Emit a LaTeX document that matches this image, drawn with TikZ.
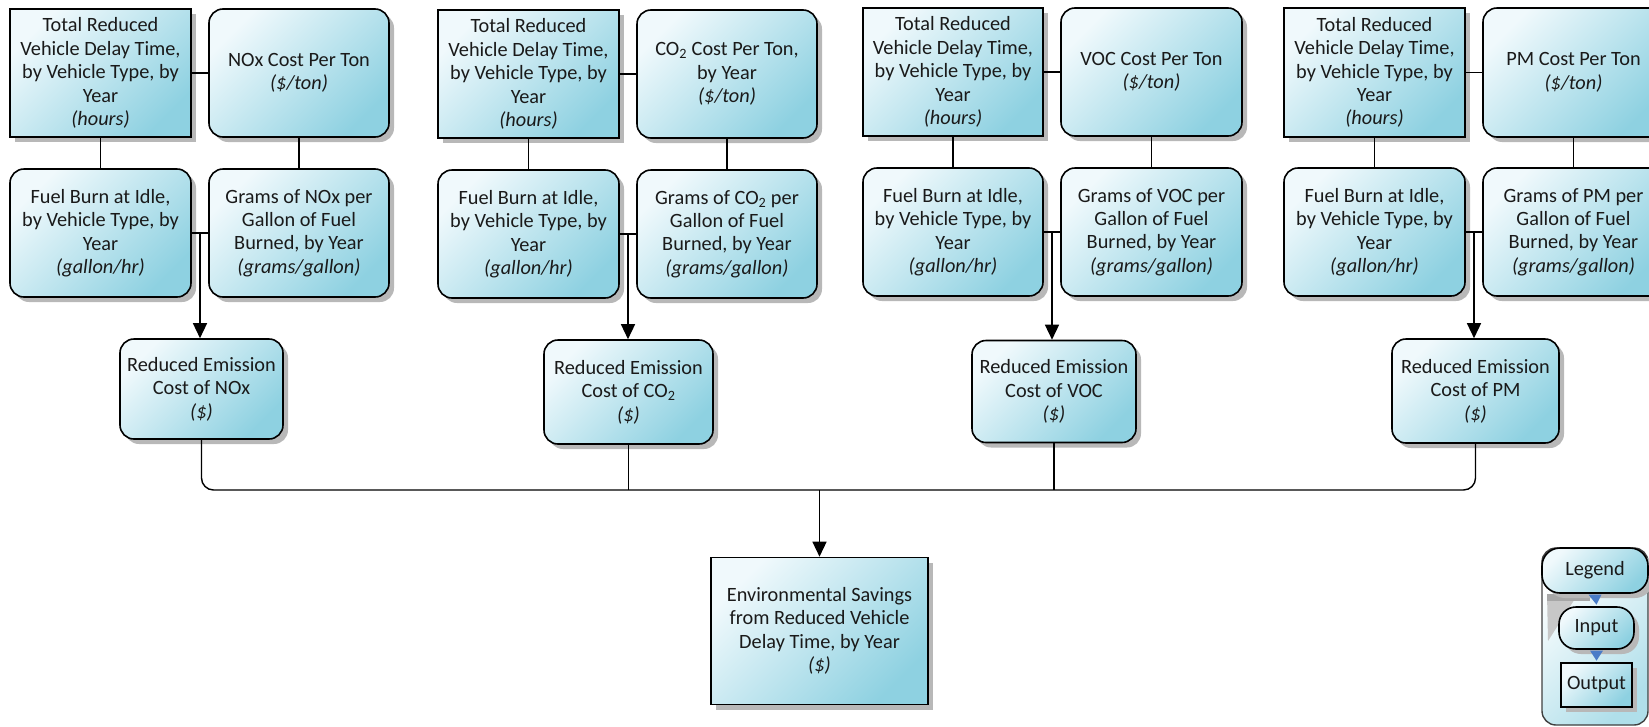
\documentclass[tikz,border=0pt]{standalone}
\usepackage{fontspec}
\setmainfont{Carlito}
\usetikzlibrary{shadows,arrows.meta,calc}

\definecolor{boxlight}{HTML}{F0F9FC}
\definecolor{boxmid}{HTML}{D8EFF5}
\definecolor{boxdark}{HTML}{8ED1E1}
\definecolor{shadowgray}{HTML}{B8B8B8}
\definecolor{legendblue}{HTML}{4A7CC8}
\definecolor{textdark}{HTML}{1A1A1A}

\tikzset{
  boxfill/.style={top color=boxlight, middle color=boxmid, bottom color=boxdark, shading angle=45},
  hasshadow/.style={drop shadow={shadow xshift=5pt, shadow yshift=-5pt, fill=shadowgray, opacity=1}},
  base/.style={draw=black, line width=1.6pt, boxfill, hasshadow, align=center,
               text=textdark, font=\fontsize{20.3}{23.4}\selectfont, inner sep=1pt},
  sqbox/.style={base, rectangle},
  rdbox/.style={base, rounded corners=14pt},
  wire/.style={line width=1.4pt, draw=black},
  arrow/.style={wire, -{Triangle[width=14pt,length=15pt]}},
  sz/.style 2 args={minimum width=#1pt, minimum height=#2pt},
}

\newcommand{\unitline}[1]{\textit{#1}}
\newcommand{\cotwo}{CO\textsubscript{2}}

\begin{document}
\begin{tikzpicture}[x=1pt, y=-1pt]
\useasboundingbox (0,0) rectangle (1649,726);
\clip (0,0) rectangle (1649,726);

% ---------- NOx column ----------
\node[sqbox, sz={181}{128}] (a1) at (100.5,73) {Total Reduced\\Vehicle Delay Time,\\by Vehicle Type, by\\Year\\\unitline{(hours)}};
\node[rdbox, sz={180}{128}] (b1) at (299,73) {NOx Cost Per Ton\\\unitline{(\$/ton)}};
\node[rdbox, sz={181}{128}] (c1) at (100.5,233) {Fuel Burn at Idle,\\by Vehicle Type, by\\Year\\\unitline{(gallon/hr)}};
\node[rdbox, sz={180}{128}] (d1) at (299,233) {Grams of NOx per\\Gallon of Fuel\\Burned, by Year\\\unitline{(grams/gallon)}};
\node[rdbox, sz={163}{100}] (e1) at (201.5,389) {Reduced Emission\\Cost of NOx\\\unitline{(\$)}};

% ---------- CO2 column ----------
\node[sqbox, sz={181}{128}] (a2) at (528.5,74) {Total Reduced\\Vehicle Delay Time,\\by Vehicle Type, by\\Year\\\unitline{(hours)}};
\node[rdbox, sz={180}{128}] (b2) at (727,74) {\cotwo{} Cost Per Ton,\\by Year\\\unitline{(\$/ton)}};
\node[rdbox, sz={181}{128}] (c2) at (528.5,234) {Fuel Burn at Idle,\\by Vehicle Type, by\\Year\\\unitline{(gallon/hr)}};
\node[rdbox, sz={180}{128}] (d2) at (727,234) {Grams of \cotwo{} per\\Gallon of Fuel\\Burned, by Year\\\unitline{(grams/gallon)}};
\node[rdbox, sz={169}{104}] (e2) at (628.5,392) {Reduced Emission\\Cost of \cotwo\\\unitline{(\$)}};

% ---------- VOC column ----------
\node[sqbox, sz={180}{128}] (a3) at (953,72) {Total Reduced\\Vehicle Delay Time,\\by Vehicle Type, by\\Year\\\unitline{(hours)}};
\node[rdbox, sz={181}{128}] (b3) at (1151.5,72) {VOC Cost Per Ton\\\unitline{(\$/ton)}};
\node[rdbox, sz={180}{128}] (c3) at (953,232) {Fuel Burn at Idle,\\by Vehicle Type, by\\Year\\\unitline{(gallon/hr)}};
\node[rdbox, sz={181}{128}] (d3) at (1151.5,232) {Grams of VOC per\\Gallon of Fuel\\Burned, by Year\\\unitline{(grams/gallon)}};
\node[rdbox, sz={164}{102}] (e3) at (1054,391.5) {Reduced Emission\\Cost of VOC\\\unitline{(\$)}};

% ---------- PM column ----------
\node[sqbox, sz={181}{129}] (a4) at (1374.5,72.5) {Total Reduced\\Vehicle Delay Time,\\by Vehicle Type, by\\Year\\\unitline{(hours)}};
\node[rdbox, sz={181}{129}] (b4) at (1573.5,72.5) {PM Cost Per Ton\\\unitline{(\$/ton)}};
\node[rdbox, sz={181}{128}] (c4) at (1374.5,232) {Fuel Burn at Idle,\\by Vehicle Type, by\\Year\\\unitline{(gallon/hr)}};
\node[rdbox, sz={181}{128}] (d4) at (1573.5,232) {Grams of PM per\\Gallon of Fuel\\Burned, by Year\\\unitline{(grams/gallon)}};
\node[rdbox, sz={167}{104}] (e4) at (1475.5,391) {Reduced Emission\\Cost of PM\\\unitline{(\$)}};

% ---------- result ----------
\node[sqbox, sz={217}{147}] (total) at (819.5,631) {Environmental Savings\\from Reduced Vehicle\\Delay Time, by Year\\\unitline{(\$)}};

% ---------- connectors inside each column ----------
\foreach \i in {1,2,3,4}{
  \draw[wire] (a\i.east) -- (b\i.west);
  \draw[wire] (a\i.south) -- (c\i.north);
  \draw[wire] (b\i.south) -- (d\i.north);
  \draw[wire] (c\i.east) -- (d\i.west);
  \coordinate (j\i) at ($(c\i.east)!0.5!(d\i.west)$);
  \draw[arrow] (j\i) -- (j\i |- e\i.north);
}

% ---------- collecting bus ----------
\coordinate (bus) at (0,490);
\draw[wire, rounded corners=12pt] (e1.south) -- (e1.south |- bus) -- (e4.south |- bus) -- (e4.south);
\draw[wire] (e2.south) -- (e2.south |- bus);
\draw[wire] (e3.south) -- (e3.south |- bus);
\draw[arrow] (total.north |- bus) -- (total.north);

% ---------- legend ----------
\draw[draw=black!75, line width=1.4pt, rounded corners=14pt,
      top color=white, middle color=white, bottom color=boxdark!70, shading angle=45]
  (1542,548) rectangle (1648,725);
\fill[black!22] (1547,594) -- (1578,594) -- (1548,641) -- cycle;
\fill[black!35] (1547,594) -- (1590,594) -- (1590,601) -- (1547,601) -- cycle;
\node[rdbox, rounded corners=18pt, sz={106}{45}] (lhead) at (1595,570.5) {Legend};
\node[rdbox, rounded corners=17pt, sz={75}{42}] (linput) at (1596.5,628) {Input};
\node[sqbox, sz={71}{44}] (loutput) at (1596.5,685) {Output};
\fill[legendblue] ($(lhead.south)+(-6.5,0.8)$) -- ($(lhead.south)+(6.5,0.8)$) -- ($(linput.north)+(0,-1.5)$) -- cycle;
\fill[legendblue] ($(linput.south)+(-6.5,0.8)$) -- ($(linput.south)+(6.5,0.8)$) -- ($(loutput.north)+(0,-1.5)$) -- cycle;
\end{tikzpicture}
\end{document}
